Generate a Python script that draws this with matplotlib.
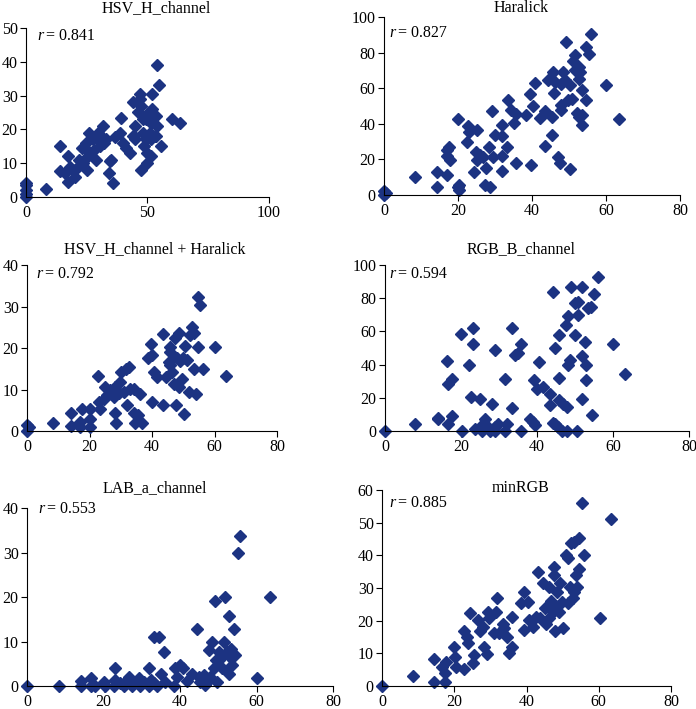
import matplotlib
matplotlib.use("Agg")
from matplotlib import pyplot as plt

plt.rcParams['font.family'] = ['Liberation Serif', 'DejaVu Serif']
plt.rcParams['font.size'] = 11.5

color = '#1c3382'

# HSV_H_channel
hsv_x = [0, 0, 0, 0, 0, 8.2, 14, 14, 17.4, 17.4, 16, 18, 20, 19.5, 23, 23.5, 24.5, 25, 26, 25.5,
         27.5, 28, 29, 29, 29.5, 30.5, 31, 31.5, 32, 33, 34.5, 34, 35.8, 36.5, 35, 39, 38.5, 40,
         41, 43, 44, 44.5, 45, 46, 46.8, 47.5, 47.5, 48, 48.7, 49.5, 50, 50.5, 51.5, 52, 52, 53,
         53.5, 54, 54.7, 54, 55.7, 50, 51.5, 60, 63.5, 45, 49.5, 51.5, 53.5, 44, 48, 47, 51, 25,
         22, 21.5]
hsv_y = [0, 1, 2, 3.5, 4.2, 2.5, 15, 7.7, 12, 4.5, 7, 9, 6, 8, 14.5, 10, 16, 8, 19, 12,
         17, 14, 11, 17.5, 19, 15, 18, 21, 16, 17, 10.5, 7, 4, 17.8, 11, 23.5, 19, 16,
         14.5, 13, 28, 18, 21, 25, 30.5, 8, 27, 19, 15, 23, 13, 25, 22, 26, 30.5, 18,
         24, 39, 33, 21, 15, 10, 12, 23, 22, 17, 17, 17, 18, 18, 23, 29, 19, 14,
         11, 9]

# Haralick
har_x = [0, 0, 0.6, 8.3, 14.4, 14.4, 17, 17, 17.6, 17, 17.8, 20, 20, 20.3, 20.3, 22.7, 22.5, 23.1,
         24.3, 24.9, 25.2, 25.2, 25.9, 26.8, 27.7, 27.2, 28.6, 28.4, 29.3, 29.5, 29.9, 31.9, 31.9,
         31.9, 31.9, 33.5, 33.3, 34.4, 35.1, 35.8, 35.8, 38.5, 39.4, 39.6, 40.3, 40.9, 42.1, 43.4,
         43.4, 44.3, 45.3, 45.6, 45.3, 45.9, 46.3, 47, 47.5, 47.9, 47.9, 48.4, 48.9, 47.9, 49.3,
         49.7, 50.2, 50.2, 50.8, 51.1, 51.6, 52.1, 52.6, 52.6, 53, 53.5, 53.5, 53.5, 54.6, 54.6,
         55.3, 55.9, 60, 63.4, 51.5, 52.6]
har_y = [0, 2, 1, 10.3, 13, 4.3, 11, 25.5, 27, 22, 19.5, 42.6, 4.3, 2.8, 5.5, 39, 30, 35.5,
         13, 24.3, 36.6, 19.6, 22.4, 21.5, 15, 5.6, 4.7, 27, 47, 21.5, 33.6, 39.3, 33.3,
         21.9, 13.6, 53.3, 27, 47.6, 40.5, 45.4, 17.8, 44.9, 57, 16.8, 50, 62.8, 43, 27.7,
         47, 64.5, 33.6, 69, 44, 57.4, 63.4, 21.5, 17.8, 50.5, 47.7, 69, 64.5, 62.6, 86,
         53.3, 61.7, 14.4, 54.2, 75.4, 78.5, 45.8, 71.8, 65.4, 69, 44.9, 39.3, 58.9, 83.2, 53.6,
         79.4, 90.7, 61.7, 42.6, 70, 44]

# HSV_H_channel + Haralick
comb_x = [0, 0.5, 0, 8.3, 14.2, 14.2, 17.1, 17.1, 17.6, 20, 20, 20, 22.7, 22.9, 23.5, 24.5, 25,
          25.6, 26.7, 27.7, 28.3, 28.3, 28.6, 29.3, 29.9, 30.2, 31, 31.8, 32.5, 32, 33.1, 34.1,
          34.1, 34.7, 35.5, 36.3, 36.8, 38.6, 39.7, 40, 40, 40.7, 41.6, 43.5, 43.5, 44.5, 45.3,
          45.9, 46.4, 46.9, 47.5, 47.8, 48, 48.5, 48.5, 49.6, 49.9, 50.3, 50.7, 51.2, 51.7, 52.3,
          52.8, 53.3, 53.5, 54.2, 54.6, 54.6, 55.5, 56.3, 60.3, 63.8, 49, 45.9, 45.9]
comb_y = [0, 1, 1.5, 2, 4.3, 1.1, 2.2, 1, 5.4, 5.4, 3, 1, 13.2, 7, 5.2, 7.8, 10.5,
          8.6, 9.8, 8.2, 10.6, 4.3, 2, 9.2, 11.8, 14.2, 9.4, 14.9, 15.4, 6.2, 10.2, 10.2,
          4.3, 2, 3.8, 9, 2, 17.6, 21, 18.3, 7, 14.2, 13, 23.4, 6.2, 13, 16.6,
          19.1, 14.2, 11.4, 22.3, 6.2, 17.6, 23.5, 10.6, 12.6, 17.6, 4.2, 20.6, 17.1, 9.4, 23.1,
          25.1, 23.5, 15, 9, 32.4, 20.3, 30.3, 15, 20.3, 13.2, 16.8, 16, 20.2]

# RGB_B_channel
rgb_x = [0, 7.9, 13.9, 14, 16.4, 16.5, 16.7, 17.5, 17.5, 19.9, 20.2, 22.2, 22.6, 23.2, 23.2, 23.7,
         25, 25, 25.4, 26.3, 27.2, 27.6, 28.2, 28.9, 28.9, 29.8, 31.6, 31.6, 32, 33.3, 33.3, 34.2,
         35.1, 35.8, 35.8, 38.2, 38.9, 39.5, 39.3, 39.9, 40.6, 41.7, 43.4, 43.4, 44.3, 44.6, 44.7,
         45.6, 45.9, 45.9, 45.9, 46.5, 46.9, 47.5, 47.8, 47.8, 48.2, 48.2, 48.7, 48.9, 50, 50,
         50.4, 50.7, 50.9, 51.8, 51.8, 51.8, 52.6, 53, 53, 53.3, 54.2, 54.4, 55.1, 56, 60.1, 63.2,
         28.9, 44.3]
rgb_y = [0, 4.4, 8, 7, 42, 28.2, 4.4, 31.6, 9, 58.5, 0, 39.6, 20.5, 61.8, 52.7, 1.4,
         19.5, 2.4, 0, 7.4, 2.4, 0, 16, 48.7, 2.4, 4.4, 31.6, 0, 4.4, 61.8, 13.9, 46,
         46.7, 52.7, 0, 7.4, 5.4, 3.4, 30.6, 25.6, 41.4, 26.6, 22.1, 15.5, 83.9, 4.4, 50.3,
         2.4, 57.7, 32.2, 18.5, 0, 16.5, 63.8, 14.5, 0, 69.4, 39.6, 42.6, 86.5, 58, 76.9,
         0, 77.9, 69.8, 86.5, 45.3, 19.5, 53.7, 39.6, 30.6, 74.3, 74.8, 9.5, 82.3, 93, 52.7, 34.6,
         0, 5]

# LAB_a_channel
lab_x = [0, 8.3, 14.2, 14.2, 16.6, 16.6, 17.9, 20, 20.5, 23.1, 23.1, 22.7, 24.4, 25.3, 26.1, 26.6,
         27.5, 28.3, 29.2, 29.6, 30.5, 31.8, 32, 32.3, 33.1, 33.3, 34, 34.4, 34.9, 35.7, 36.2,
         38.4, 38.8, 39.2, 40, 40.9, 41.8, 43.2, 44.5, 44.9, 45.3, 46.2, 46.6, 47.5, 47.9, 48.4,
         48.8, 49.1, 49.3, 49.7, 50.1, 50.1, 50.6, 51, 51.4, 51.7, 52.3, 52.7, 53.2, 53.2, 53.6,
         54, 54.5, 55.1, 55.8, 60, 63.5, 52.7, 47]
lab_y = [0, 0, 1.1, 0, 1.9, 0, 0, 1, 0, 4, 1.3, 0, 0.6, 0, 1.3, 2.1,
         0, 1, 1.9, 0, 1, 0, 4, 1.3, 0.6, 11.1, 0, 11.1, 2.8, 7.7, 1,
         0, 4, 2.1, 4.7, 4, 1.1, 2.8, 12.9, 2.1, 1, 2.5, 0.2, 8.1, 2.1, 10,
         4, 19, 5.8, 1, 7.7, 5.8, 6.6, 4, 10, 20, 7.7, 15.7, 8.4, 6.2, 4.7,
         12.9, 7, 29.9, 33.8, 1.9, 20, 2.8, 1]

# minRGB
min_x = [0, 8.5, 14.3, 14.3, 16.6, 17.3, 17.7, 17.5, 20, 20.2, 20.5, 22.6, 22.8, 23.5, 23.7, 24.4,
         25.1, 25.4, 26.7, 27.2, 27.9, 28.3, 29.1, 29.2, 29.7, 31.1, 31.6, 31.8, 32.5, 33.4, 33.7,
         34.6, 35.2, 36, 36, 39.2, 39.4, 38.5, 40.3, 40.8, 41.9, 43.3, 43.8, 44.5, 45, 45.4, 46.1,
         46.3, 46.8, 47.2, 47.7, 47.7, 47.9, 48.4, 49, 49.3, 49.9, 50.2, 50.9, 51.4, 51.4, 52.1,
         52.3, 52.8, 53.2, 53.7, 54, 54.4, 54.6, 55.3, 56, 60.4, 63.4, 53.2, 47.2, 42.6]
min_y = [0, 3.2, 8.2, 1.1, 5.9, 3.9, 7.4, 1.1, 12, 9, 5.9, 5.2, 17, 15.1, 13.1, 22.3,
         6.9, 9.5, 20.2, 17, 18.2, 12, 9.7, 22.8, 20.7, 16.1, 22.8, 26.8, 16.1, 18.9, 17.9,
         15.1, 10, 12, 21, 17.1, 28.9, 25.3, 25.8, 20.2, 18.2, 35, 20.7, 31.4, 23.8, 18.9, 20.7,
         30.4, 26, 22.8, 36.5, 34, 16.8, 28.9, 22.8, 31.4, 25.8, 17.9, 40.1, 39.1, 25.3, 30.4,
         43.7, 27, 28.9, 34, 30.4, 45.4, 35.8, 55.9, 40.1, 20.7, 51, 44.2, 24.8, 21.2]

# title, r, x, y, axes rect, xlim, xticks, ylim, yticks, title (x, baseline) px, r text (x, y) px
panels = [
    ("HSV_H_channel", "0.841", hsv_x, hsv_y, [0.0374, 0.7222, 0.349, 0.2384], (0, 100), [0, 50, 100],
     (0, 50), [0, 10, 20, 30, 40, 50], (156, 12.5), (37, 36)),
    ("Haralick", "0.827", har_x, har_y, [0.5517, 0.7250, 0.4253, 0.2510], (0, 80), [0, 20, 40, 60, 80],
     (0, 100), [0, 20, 40, 60, 80, 100], (521, 12.5), (389, 33)),
    ("HSV_H_channel + Haralick", "0.792", comb_x, comb_y, [0.0388, 0.3921, 0.3592, 0.2341], (0, 80), [0, 20, 40, 60, 80],
     (0, 40), [0, 10, 20, 30, 40], (155, 253), (36, 274)),
    ("RGB_B_channel", "0.594", rgb_x, rgb_y, [0.5532, 0.3921, 0.4368, 0.2341], (0, 80), [0, 20, 40, 60, 80],
     (0, 100), [0, 20, 40, 60, 80, 100], (521, 253), (389, 274)),
    ("LAB_a_channel", "0.553", lab_x, lab_y, [0.0388, 0.0324, 0.4397, 0.2511], (0, 80), [0, 20, 40, 60, 80],
     (0, 40), [0, 10, 20, 30, 40], (155, 492), (38, 509)),
    ("minRGB", "0.885", min_x, min_y, [0.5489, 0.0324, 0.4152, 0.2764], (0, 80), [0, 20, 40, 60, 80],
     (0, 60), [0, 10, 20, 30, 40, 50, 60], (521, 492), (389, 503)),
]

fig = plt.figure(figsize=(6.96, 7.09), dpi=100)

for title, r, xs, ys, rect, xlim, xticks, ylim, yticks, tpos, rpos in panels:
    ax = fig.add_axes(rect)
    ax.plot(xs, ys, linestyle='none', marker='D', markersize=6, color=color, clip_on=False)
    ax.set_xlim(*xlim)
    ax.set_ylim(*ylim)
    ax.set_xticks(xticks)
    ax.set_yticks(yticks)
    ax.spines['top'].set_visible(False)
    ax.spines['right'].set_visible(False)
    ax.tick_params(direction='out', length=4, width=0.8, pad=2)
    # "r" in italics, the rest upright
    fig.text(rpos[0] / 696, 1 - rpos[1] / 709, "r", style='italic', va='center')
    fig.text((rpos[0] + 9) / 696, 1 - rpos[1] / 709, "= " + r, va='center')
    fig.text(tpos[0] / 696, 1 - tpos[1] / 709, title, ha='center', va='baseline')

fig.savefig("out.png", dpi=100)
